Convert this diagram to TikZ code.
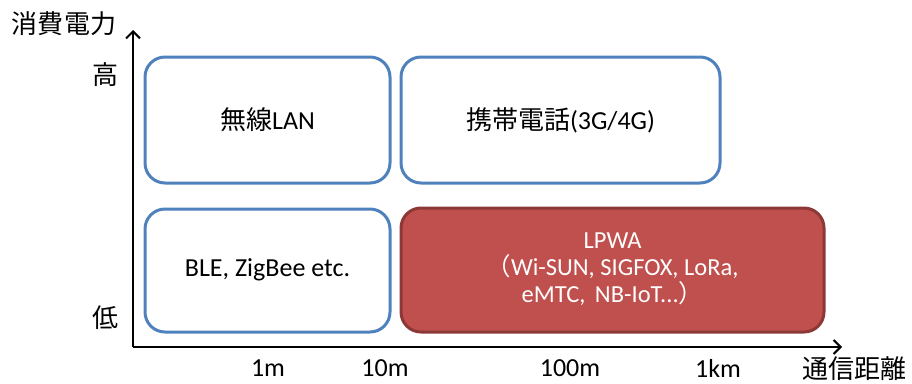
\documentclass[tikz,border=0pt]{standalone}
\usepackage{fontspec}
\setmainfont{Carlito}
\newfontfamily\jp{Noto Sans CJK JP}
\usetikzlibrary{arrows.meta}
\definecolor{bblue}{HTML}{4F81BD}
\definecolor{rfill}{HTML}{C0504D}
\definecolor{rline}{HTML}{8C3836}
\begin{document}
\begin{tikzpicture}[x=1pt,y=-1pt,
  cat/.style={draw=bblue,line width=3pt,rounded corners=20pt,fill=white},
  catred/.style={draw=rline,line width=3pt,rounded corners=20pt,fill=rfill},
  lab/.style={font=\fontsize{26}{30}\selectfont,align=center},
  axis/.style={line width=2.4pt,-{Straight Barb[length=7pt,width=14pt,line width=2pt]}},
  tick/.style={font=\fontsize{26}{30}\selectfont},
  jlab/.style={font=\jp\fontsize{26}{30}\selectfont}]
\useasboundingbox (0,0) rectangle (912,383);
\coordinate (O) at (133,347);
\coordinate (Y) at (133,30);
\coordinate (X) at (842,347);
\draw[axis] (O) -- (Y);
\draw[axis] (O) -- (X);
\path[cat] (145,57) rectangle (390,183);
\node[lab] (wlan) at (267.5,120) {{\jp 無線}LAN};
\path[cat] (401,57) rectangle (720,183);
\node[lab] (cell) at (560.5,120) {{\jp 携帯電話}(3G/4G)};
\path[cat] (145,209) rectangle (390,332);
\node[lab] (ble) at (267.5,270) {BLE, ZigBee etc.};
\path[catred] (401,208) rectangle (824,332);
\node[lab,text=white,font=\fontsize{24.5}{27}\selectfont] (lpwa) at (612.5,269) {LPWA\\{\jp （}Wi-SUN, SIGFOX, LoRa,\\eMTC,\, NB-IoT...{\jp ）}};
\node[jlab] (ylab) at (64,24) {消費電力};
\node[jlab] (hi) at (105,75) {高};
\node[jlab] (lo) at (105,318) {低};
\node[jlab] (xlab) at (854,369) {通信距離};
\node[tick] (t1) at (268,368) {1m};
\node[tick] (t2) at (385,368) {10m};
\node[tick] (t3) at (570,368) {100m};
\node[tick] (t4) at (718,368) {1km};
\end{tikzpicture}
\end{document}
